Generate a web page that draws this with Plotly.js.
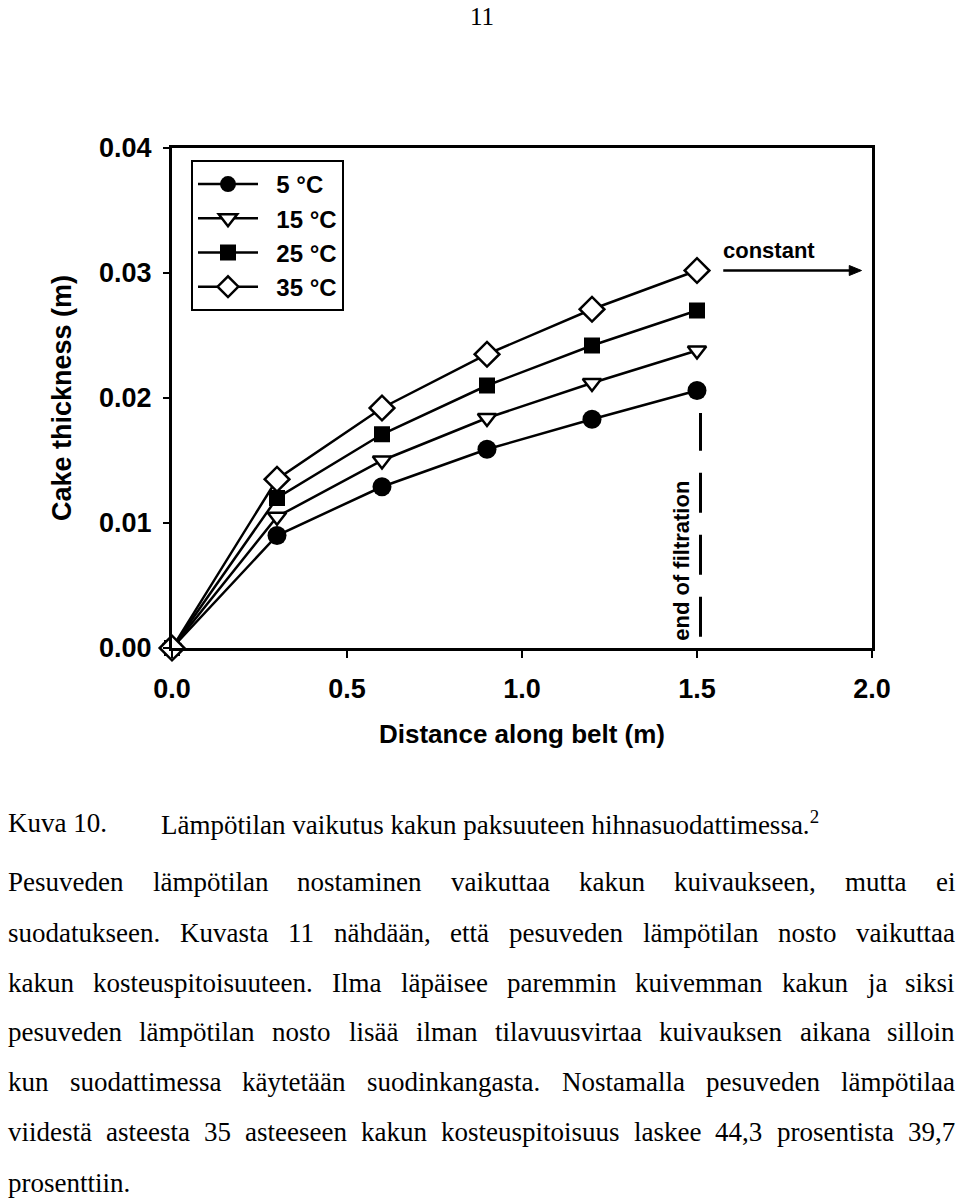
<!DOCTYPE html>
<html>
<head>
<meta charset="utf-8">
<script src="https://cdn.plot.ly/plotly-3.0.1.min.js"></script>
<style>
  html, body { margin: 0; padding: 0; background: #fff; }
  #chart { width: 960px; height: 1200px; }
</style>
</head>
<body>
<div id="chart"></div>
<script>
// ---- data ----
const distance = [0, 0.3, 0.6, 0.9, 1.2, 1.5];
const thickness5 = [0, 0.0090, 0.0129, 0.0159, 0.0183, 0.0206];
const thickness15 = [0, 0.0105, 0.0150, 0.0184, 0.0212, 0.0238];
const thickness25 = [0, 0.0120, 0.0171, 0.0210, 0.0242, 0.0270];
const thickness35 = [0, 0.0135, 0.0192, 0.0235, 0.0271, 0.0302];
const seriesNames = ['5 °C', '15 °C', '25 °C', '35 °C'];
const xTickVals = [0, 0.5, 1.0, 1.5, 2.0];
const yTickVals = [0, 0.01, 0.02, 0.03, 0.04];

const pageNumber = '11';
const captionLabel = 'Kuva 10.';
const captionText = 'Lämpötilan vaikutus kakun paksuuteen hihnasuodattimessa.<sup>2</sup>';
const bodyLines = [
  'Pesuveden lämpötilan nostaminen vaikuttaa kakun kuivaukseen, mutta ei',
  'suodatukseen. Kuvasta 11 nähdään, että pesuveden lämpötilan nosto vaikuttaa',
  'kakun kosteuspitoisuuteen. Ilma läpäisee paremmin kuivemman kakun ja siksi',
  'pesuveden lämpötilan nosto lisää ilman tilavuusvirtaa kuivauksen aikana silloin',
  'kun suodattimessa käytetään suodinkangasta. Nostamalla pesuveden lämpötilaa',
  'viidestä asteesta 35 asteeseen kakun kosteuspitoisuus laskee 44,3 prosentista 39,7',
  'prosenttiin.'
];

// ---- layout geometry ----
const L = 172, R = 872, T = 148, B = 648;
const W = R - L, H = B - T;
const px2x = p => (p - L) / W;
const py2y = p => (B - p) / H;

const SANS = 'Liberation Sans, Arial, sans-serif';
const SERIF = 'Liberation Serif, Times New Roman, serif';
const serifSize = 27;

const canvas = document.createElement('canvas');
const ctx = canvas.getContext('2d');
ctx.font = serifSize + 'px "Liberation Serif"';
const measure = s => ctx.measureText(s).width;

const annotations = [];
function textAt(text, px, py, opts) {
  annotations.push(Object.assign({
    text: text, xref: 'paper', yref: 'paper', x: px2x(px), y: py2y(py),
    xanchor: 'left', yanchor: 'middle', showarrow: false, borderpad: 0,
    font: {family: SERIF, size: serifSize, color: '#000'}
  }, opts || {}));
}

// page number
textAt(pageNumber, 482, 16, {xanchor: 'center', font: {family: SERIF, size: 25, color: '#000'}});
// caption
textAt(captionLabel, 7, 823);
textAt(captionText, 160, 823);

// justified body text
const lineYs = [882, 933, 983, 1032, 1082, 1132, 1183];
const x0 = 7, x1 = 954;
bodyLines.forEach((line, i) => {
  const y = lineYs[i];
  if (i === bodyLines.length - 1) { textAt(line, x0, y); return; }
  const words = line.split(' ');
  const widths = words.map(measure);
  const total = widths.reduce((a, b) => a + b, 0);
  const gap = (x1 - x0 - total) / (words.length - 1);
  let x = x0;
  words.forEach((w, k) => { textAt(w, x, y); x += widths[k] + gap; });
});

// chart annotations
annotations.push({
  text: 'constant', xref: 'x', yref: 'y', x: 1.706, y: 0.0318,
  showarrow: false, font: {family: SANS, size: 22, color: '#000', weight: 'bold'}
});
annotations.push({
  text: 'end of filtration', xref: 'x', yref: 'y', x: 1.455, y: 0.0070,
  textangle: -90, showarrow: false,
  font: {family: SANS, size: 22, color: '#000', weight: 'bold'}
});

const shapes = [
  { // end-of-filtration dashed marker
    type: 'line', xref: 'x', yref: 'y', x0: 1.51, x1: 1.51, y0: 0.0009, y1: 0.0188,
    line: {color: '#000', width: 3, dash: '40px,22px'}
  },
  { // "constant" arrow shaft
    type: 'line', xref: 'x', yref: 'y', x0: 1.575, x1: 1.94, y0: 0.0302, y1: 0.0302,
    line: {color: '#000', width: 2.5}
  },
  { // arrow head
    type: 'path', xref: 'x', yref: 'y',
    path: 'M 1.97 0.0302 L 1.935 0.0306 L 1.935 0.0298 Z',
    fillcolor: '#000', line: {color: '#000', width: 1}
  }
];

const pad = '\u00a0\u00a0';
const lineStyle = {color: '#000', width: 2.5};
const traces = [
  {x: distance, y: thickness5, name: pad + seriesNames[0], mode: 'lines+markers', line: lineStyle,
   marker: {symbol: 'circle', size: 19, color: '#000'}, cliponaxis: false},
  {x: distance, y: thickness15, name: pad + seriesNames[1], mode: 'lines+markers', line: lineStyle,
   marker: {symbol: 'triangle-down', size: 16, color: '#fff', line: {color: '#000', width: 2.5}}, cliponaxis: false},
  {x: distance, y: thickness25, name: pad + seriesNames[2], mode: 'lines+markers', line: lineStyle,
   marker: {symbol: 'square', size: 16, color: '#000'}, cliponaxis: false},
  {x: distance, y: thickness35, name: pad + seriesNames[3], mode: 'lines+markers', line: lineStyle,
   marker: {symbol: 'diamond', size: 19, color: '#fff', line: {color: '#000', width: 2.5}}, cliponaxis: false}
];

const axisFont = {family: SANS, size: 27, color: '#000', weight: 'bold'};
const layout = {
  width: 960, height: 1200,
  margin: {l: L, r: 960 - R, t: T, b: 1200 - B, pad: 0},
  paper_bgcolor: '#fff', plot_bgcolor: '#fff',
  showlegend: true,
  legend: {
    x: px2x(191), y: py2y(160), xanchor: 'left', yanchor: 'top',
    bordercolor: '#000', borderwidth: 2, bgcolor: '#fff',
    font: {family: SANS, size: 24, color: '#000', weight: 'bold'},
    itemwidth: 60, tracegroupgap: 0
  },
  xaxis: {
    range: [0, 2.0], tickvals: xTickVals, tickformat: '.1f',
    showgrid: false, zeroline: false, showline: true, linecolor: '#000', linewidth: 3,
    mirror: true, ticks: 'outside', ticklen: 7, tickwidth: 2.5, tickcolor: '#000',
    tickfont: axisFont, ticklabelstandoff: 8,
    title: {text: 'Distance along belt (m)', font: {family: SANS, size: 26, color: '#000', weight: 'bold'}, standoff: 22}
  },
  yaxis: {
    range: [0, 0.04], tickvals: yTickVals, tickformat: '.2f',
    showgrid: false, zeroline: false, showline: true, linecolor: '#000', linewidth: 3,
    mirror: true, ticks: 'outside', ticklen: 6, tickwidth: 2.5, tickcolor: '#000',
    tickfont: axisFont, ticklabelstandoff: 6,
    title: {text: 'Cake thickness (m)', font: {family: SANS, size: 27, color: '#000', weight: 'bold'}, standoff: 20}
  },
  annotations: annotations,
  shapes: shapes
};

Plotly.newPlot('chart', traces, layout, {staticPlot: true, displayModeBar: false});
</script>
</body>
</html>
